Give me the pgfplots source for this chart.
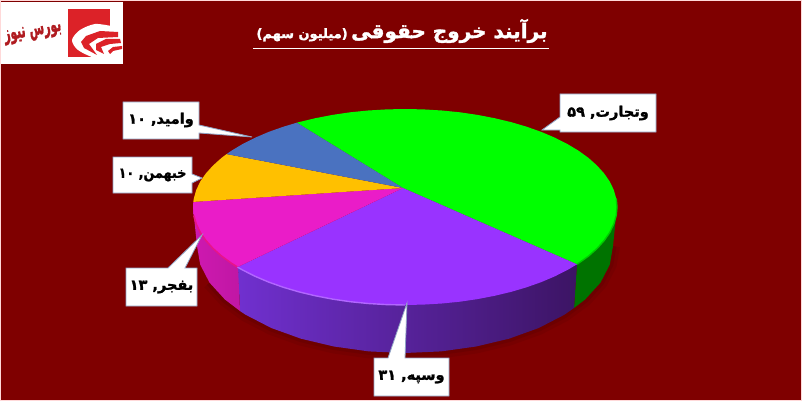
\documentclass[border=0pt]{standalone}
\usepackage{fontspec}
\usepackage{pgfplots}
\pgfplotsset{compat=1.18}
\TeXXeTstate=1
\newfontfamily\arabicfont[Script=Arabic,BoldFeatures={FakeBold=1.6}]{DejaVu Sans}
\definecolor{bgred}{HTML}{7F0000}
\definecolor{boxline}{HTML}{8FA3C4}
\definecolor{logored}{HTML}{DC2228}
\definecolor{pgreen}{HTML}{00FF00}
\definecolor{pviolet}{HTML}{9933FF}
\definecolor{pmagenta}{HTML}{EA1CC8}
\definecolor{pyellow}{HTML}{FFC000}
\definecolor{pblue}{HTML}{4A72C0}
\definecolor{wallleft}{HTML}{7030CF}
\definecolor{wallmid}{HTML}{5C2299}
\definecolor{wallright}{HTML}{3C1464}
% callout text: name right, number left
\newcommand{\callout}[2]{{\arabicfont\bfseries\fontsize{14.5}{16}\selectfont\beginR #1,\ \beginL #2\endL\endR}}
\begin{document}
\begin{tikzpicture}
\begin{axis}[
    hide axis,
    scale only axis,
    width=802pt,
    height=401pt,
    xmin=0, xmax=802,
    ymin=0, ymax=401,
    y dir=reverse,
    clip=true,
]
% background and frame
\addplot[fill=bgred, draw=none, forget plot] coordinates {(0,0) (802,0) (802,401) (0,401)} -- cycle;
\addplot[draw=white!85!red, line width=1pt, forget plot] coordinates {(0.5,0.5) (801.5,0.5) (801.5,400.5) (0.5,400.5) (0.5,0.5)};

% shadow under the pie
\addplot[draw=black, opacity=0.06, line width=14pt, forget plot] coordinates {(613,246) (609.8,264.6) (600.5,282.6) (585.1,299.5) (564.3,314.8) (538.7,328) (509,338.7) (476.1,346.5) (441.1,351.4) (405,353) (368.9,351.4) (333.9,346.5) (301,338.7) (271.3,328) (245.7,314.8) (224.9,299.5) (209.5,282.6)};
\addplot[draw=black, opacity=0.08, line width=7pt, forget plot] coordinates {(613,246) (609.8,264.6) (600.5,282.6) (585.1,299.5) (564.3,314.8) (538.7,328) (509,338.7) (476.1,346.5) (441.1,351.4) (405,353) (368.9,351.4) (333.9,346.5) (301,338.7) (271.3,328) (245.7,314.8) (224.9,299.5) (209.5,282.6)};

% side walls
\addplot[fill=black!55!green, draw=none, forget plot] coordinates {(617,207) (613,246) (609.8,264.6) (600.5,282.6) (585.1,299.5) (574,308) (577,264)} -- cycle;
\addplot[shade, left color=wallleft, middle color=wallmid, right color=wallright, draw=none, forget plot] coordinates {(577,264) (574,308) (564.3,314.8) (538.7,328) (509,338.7) (476.1,346.5) (441.1,351.4) (405,353) (368.9,351.4) (333.9,346.5) (301,338.7) (271.3,328) (245.7,314.8) (240,311) (238,267) (405,280)} -- cycle;
\addplot[shade, left color=black!12!pmagenta, right color=black!18!pmagenta, draw=none, forget plot] coordinates {(193,207) (197,246) (200.2,264.6) (209.5,282.6) (224.9,299.5) (240,311) (238,267)} -- cycle;

% top face
\addplot[fill=pgreen, draw=none, forget plot] coordinates {(403,188) (296.8,122.7) (299,122.1) (315.4,118.2) (332.5,114.9) (350.1,112.3) (368.2,110.5) (386.5,109.4) (405,109) (423.5,109.4) (441.8,110.5) (459.9,112.3) (477.5,114.9) (494.6,118.2) (511,122.1) (526.6,126.7) (541.3,131.9) (554.9,137.7) (567.4,144) (578.7,150.8) (588.6,158) (597.1,165.6) (604.2,173.5) (609.8,181.6) (613.8,190) (616.2,198.5) (617,207) (616.2,215.5) (613.8,224) (609.8,232.4) (604.2,240.5) (597.1,248.4) (588.6,256) (577,264.3)} -- cycle;
\addplot[fill=pviolet, draw=none, forget plot] coordinates {(403,188) (577,264.3) (567.4,270) (554.9,276.3) (541.3,282.1) (526.6,287.3) (511,291.9) (494.6,295.8) (477.5,299.1) (459.9,301.7) (441.8,303.5) (423.5,304.6) (405,305) (386.5,304.6) (368.2,303.5) (350.1,301.7) (332.5,299.1) (315.4,295.8) (299,291.9) (283.4,287.3) (268.7,282.1) (255.1,276.3) (242.6,270) (237.5,267.1)} -- cycle;
\addplot[fill=pmagenta, draw=none, forget plot] coordinates {(403,188) (237.5,267.1) (231.3,263.2) (221.4,256) (212.9,248.4) (205.8,240.5) (200.2,232.4) (196.2,224) (193.8,215.5) (193,207) (193.3,201.9)} -- cycle;
\addplot[fill=pyellow, draw=none, forget plot] coordinates {(403,188) (193.3,201.9) (193.8,198.5) (196.2,190) (200.2,181.6) (205.8,173.5) (212.9,165.6) (221.4,158) (226.6,154.1)} -- cycle;
\addplot[fill=pblue, draw=none, forget plot] coordinates {(403,188) (226.6,154.1) (231.3,150.8) (242.6,144) (255.1,137.7) (268.7,131.9) (283.4,126.7) (296.8,122.7)} -- cycle;

% rim highlights on the front edge
\addplot[draw=magenta!60!pmagenta, line width=1.6pt, forget plot] coordinates {(237.5,267.1) (231.3,263.2) (221.4,256) (212.9,248.4) (205.8,240.5) (200.2,232.4) (196.2,224) (193.8,215.5)};
\addplot[draw=white!25!pviolet, line width=1.4pt, forget plot] coordinates {(237.5,267.1) (242.6,270) (255.1,276.3) (268.7,282.1) (283.4,287.3) (299,291.9) (315.4,295.8) (332.5,299.1) (350.1,301.7) (368.2,303.5) (386.5,304.6) (405,305)};
\addplot[draw=black!20!pgreen, line width=1.4pt, forget plot] coordinates {(577,264.3) (588.6,256) (597.1,248.4) (604.2,240.5) (609.8,232.4) (613.8,224) (616.2,215.5) (617,207) (616.2,198.5)};

% callouts
\addplot[fill=white, draw=boxline, line width=0.8pt, forget plot] coordinates {(123,102) (199,102) (199,125) (252,137) (199,133) (199,139) (123,139)} -- cycle;
\addplot[fill=white, draw=boxline, line width=0.8pt, forget plot] coordinates {(113,157) (192,157) (192,174) (202,178) (192,183) (192,193) (113,193)} -- cycle;
\addplot[fill=white, draw=boxline, line width=0.8pt, forget plot] coordinates {(126,268) (168,268) (202,235) (185,268) (197,268) (197,306) (126,306)} -- cycle;
\addplot[fill=white, draw=boxline, line width=0.8pt, forget plot] coordinates {(374,358) (388,358) (407,303) (405,358) (449,358) (449,396) (374,396)} -- cycle;
\addplot[fill=white, draw=boxline, line width=0.8pt, forget plot] coordinates {(560,94) (656,94) (656,132) (560,132) (560,130) (542,130) (560,117)} -- cycle;
\node at (axis cs:161,120) {\callout{وامید}{۱۰}};
\node[xscale=0.88] at (axis cs:152.5,175) {\callout{خبهمن}{۱۰}};
\node at (axis cs:161.5,287) {\callout{بفجر}{۱۳}};
\node at (axis cs:411.5,377) {\callout{وسپه}{۳۱}};
\node at (axis cs:608,113) {\callout{وتجارت}{۵۹}};

% title
\node[text=white] at (axis cs:402,31) {\arabicfont\bfseries\beginR{\fontsize{20}{22}\selectfont برآیند خروج حقوقی} {\fontsize{13}{15}\selectfont (میلیون سهم)}\endR};
\addplot[draw=white, line width=1pt, forget plot] coordinates {(253,48.5) (549,48.5)};

% logo
\addplot[fill=white, draw=none, forget plot] coordinates {(1,2) (123,2) (123,64) (1,64)} -- cycle;
\addplot[fill=logored, draw=none, forget plot] coordinates {(68,9) (110,9) (110,57) (68,57)} -- cycle;
\addplot[fill=white, draw=none, smooth, forget plot] coordinates {(111,26) (95,24) (80,30) (72,40) (78,50) (95,58) (111,58)} -- cycle;
\addplot[fill=logored, draw=none, forget plot] coordinates {(118,32) (100,31) (86,36) (81,42) (84,48) (97,55) (89,44) (98,38) (118,37)} -- cycle;
\addplot[fill=logored, draw=none, forget plot] coordinates {(120,39) (106,39) (96,44) (96,50) (104,54) (101,47) (110,44) (121,43)} -- cycle;
\addplot[fill=logored, draw=none, forget plot] coordinates {(122,46) (113,47) (108,51) (110,54) (113,51) (122,49)} -- cycle;
\node[text=logored!80!black, rotate=10, xscale=0.78, yscale=1.5] at (axis cs:33,33) {\arabicfont\bfseries\fontsize{14}{15}\selectfont\beginR بورس نیوز\endR};
\end{axis}
\end{tikzpicture}
\end{document}
